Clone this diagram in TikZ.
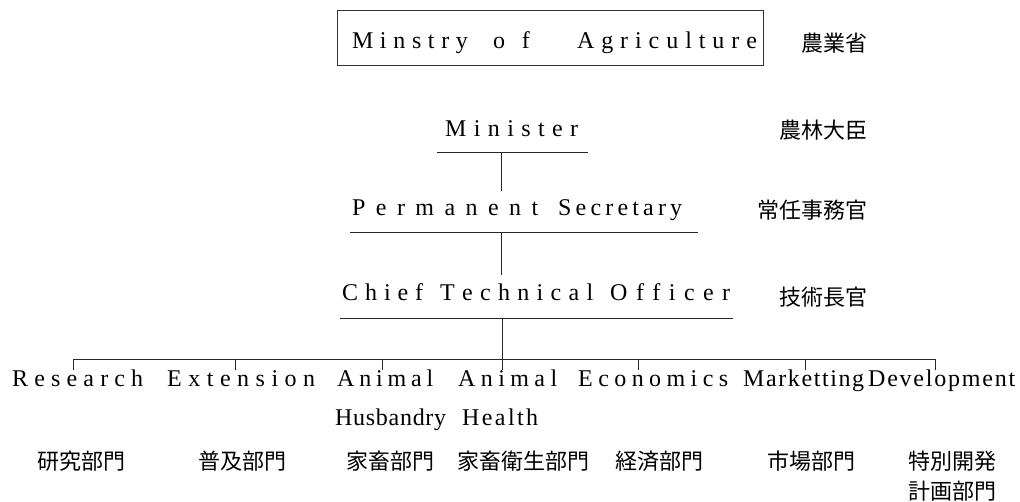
\documentclass[tikz,border=0pt]{standalone}
\usepackage{fontspec}
\setmainfont{Liberation Serif}
\newfontfamily\jp{Noto Sans CJK JP}
\def\spr#1#2{\makebox[#1][s]{\SLa#2\relax}}
\def\SLa#1{#1\SLb}
\def\SLb#1{\ifx#1\relax\else\hfil#1\expandafter\SLb\fi}
\tikzset{
  en/.style={anchor=base west, inner sep=0pt, font=\fontsize{24}{28}\selectfont},
  jpl/.style={inner sep=0pt, font=\jp\fontsize{22}{30}\selectfont},
  rule/.style={line width=0.9pt, draw=black!85},
}
\begin{document}
\begin{tikzpicture}[x=1pt,y=-1pt]
\useasboundingbox (0,0) rectangle (1020,501);
% title box
\node[draw=black!80, line width=0.9pt, minimum width=426pt, minimum height=55pt,
      inner sep=0pt, text height=22pt, text depth=1pt,
      font=\fontsize{24}{28}\selectfont] (title) at (550,37.5)
  {\hspace*{9pt}\spr{116pt}{Minstry}\hskip25pt\spr{37pt}{of}\hskip47pt\spr{180pt}{Agriculture}};
% right column Japanese
\node[jpl, anchor=east] (jtitle) at (868,43) {農業省};
\node[jpl, anchor=east] (jmin) at (868,130) {農林大臣};
\node[jpl, anchor=east] (jps) at (868,210) {常任事務官};
\node[jpl, anchor=east] (jcto) at (868,297) {技術長官};
% hierarchy
\node[en] (min) at (445,136) {\spr{133pt}{Minister}};
\coordinate (minL) at (437,152); \coordinate (minR) at (588,152);
\draw[rule] (minL) -- (minR);
\coordinate (c1) at (501,152); \coordinate (c2) at (501,191);
\draw[rule] (c1) -- (c2);
\node[en] (ps) at (352,215) {\spr{186pt}{Permanent}\hskip20pt\spr{124pt}{Secretary}};
\coordinate (psL) at (350,232); \coordinate (psR) at (698,232);
\draw[rule] (psL) -- (psR);
\coordinate (c3) at (501,232); \coordinate (c4) at (501,275);
\draw[rule] (c3) -- (c4);
\node[en] (cto) at (342,300) {\spr{81pt}{Chief}\hskip17pt\spr{153pt}{Technical}\hskip17pt\spr{120pt}{Officer}};
\coordinate (ctoL) at (340,318); \coordinate (ctoR) at (733,318);
\draw[rule] (ctoL) -- (ctoR);
\coordinate (c5) at (502,318); \coordinate (c6) at (502,370);
\draw[rule] (c5) -- (c6);
% branch line and ticks
\coordinate (b1) at (73,359);  \coordinate (t1) at (73,370);
\coordinate (b2) at (235,359); \coordinate (t2) at (235,370);
\coordinate (b3) at (382,359); \coordinate (t3) at (382,370);
\coordinate (b5) at (638,359); \coordinate (t5) at (638,370);
\coordinate (b6) at (805,359); \coordinate (t6) at (805,370);
\coordinate (b7) at (935,359); \coordinate (t7) at (935,370);
\draw[rule] (b1) -- (b7);
\foreach \i in {1,2,3,5,6,7} \draw[rule] (b\i) -- (t\i);
% departments
\node[en] (res) at (12,386) {\spr{131pt}{Research}};
\node[en] (ext) at (167,386) {\spr{148pt}{Extension}};
\node[en] (ah1) at (337,386) {\spr{96pt}{Animal}};
\node[en] (ah2) at (335,425) {\spr{111pt}{Husbandry}};
\node[en] (ahl1) at (458,386) {\spr{99pt}{Animal}};
\node[en] (ahl2) at (462,425) {\spr{76pt}{Health}};
\node[en] (eco) at (578,386) {\spr{150pt}{Economics}};
\node[en] (mkt) at (743,386) {\spr{121pt}{Marketting}};
\node[en] (dev) at (868,386) {\spr{147pt}{Development}};
% Japanese department names
\node[jpl] (jres) at (81,461) {研究部門};
\node[jpl] (jext) at (242,461) {普及部門};
\node[jpl] (jah) at (390,461) {家畜部門};
\node[jpl] (jahl) at (523,461) {家畜衛生部門};
\node[jpl] (jeco) at (659,461) {経済部門};
\node[jpl] (jmkt) at (811,461) {市場部門};
\node[jpl, align=center] (jdev) at (952,476) {特別開発\\計画部門};
\end{tikzpicture}
\end{document}
